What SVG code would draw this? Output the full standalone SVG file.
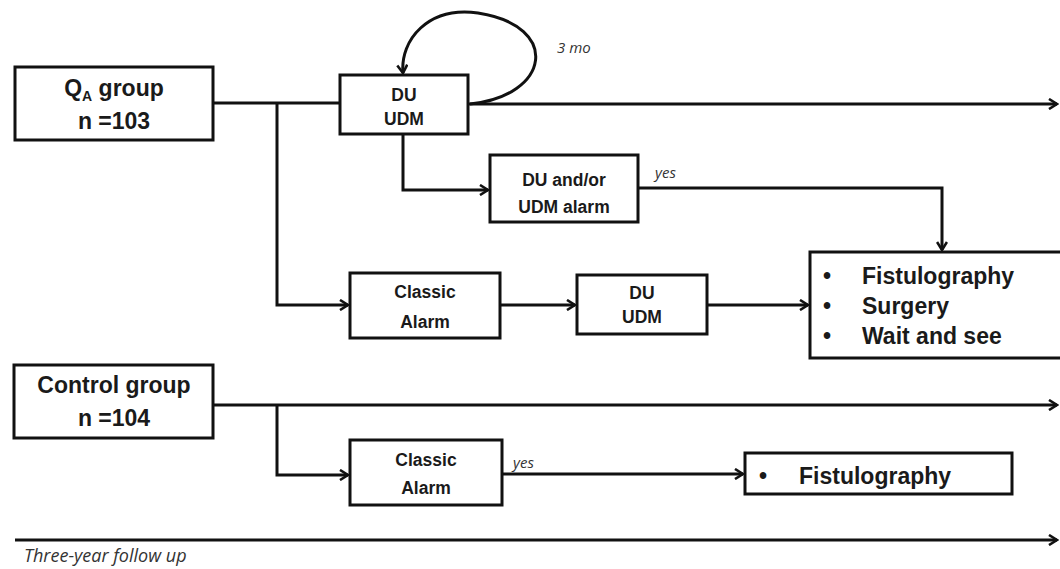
<svg xmlns="http://www.w3.org/2000/svg" width="1060" height="569" viewBox="0 0 1060 569">
<style>
.box{fill:#fff;stroke:#111;stroke-width:3}
.ln{fill:none;stroke:#111;stroke-width:3}
.arr{marker-end:url(#ah)}
.t{font-family:"Liberation Sans",Arial,sans-serif;font-weight:bold;fill:#1a1a1a;text-anchor:middle}
.big{font-size:23px}
.sm{font-size:17.5px}
.lst{font-family:"Liberation Sans",Arial,sans-serif;font-weight:bold;fill:#1a1a1a;font-size:23px}
.it{font-family:"Open Sans","Liberation Sans",sans-serif;font-style:italic;fill:#333;font-size:15px}
</style>
<defs>
<marker id="ah" viewBox="0 0 12 12" refX="10" refY="6" markerWidth="12" markerHeight="12" markerUnits="userSpaceOnUse" orient="auto">
<path d="M2,1 L10,6 L2,11" fill="none" stroke="#111" stroke-width="2.6"/>
</marker>
</defs>
<g id="connectors">
<path class="ln" d="M213,103 L340,103"/>
<path class="ln arr" d="M468,104 L1057,104"/>
<path class="ln arr" d="M470,104 C550,96 562,26 478,13 C428,6 400,40 403,73"/>
<path class="ln arr" d="M403,134 L403,190 L488,190"/>
<path class="ln arr" d="M638,188 L942,188 L942,250"/>
<path class="ln arr" d="M277,103 L277,305 L348,305"/>
<path class="ln arr" d="M500,305 L575,305"/>
<path class="ln arr" d="M707,305 L808,305"/>
<path class="ln arr" d="M213,405 L1057,405"/>
<path class="ln arr" d="M277,405 L277,475 L348,475"/>
<path class="ln arr" d="M502,474 L743,474"/>
<path class="ln arr" d="M15,540 L1057,540"/>
</g>
<g id="qa-group">
<rect class="box" x="15" y="67" width="198" height="73"/>
<text class="t big" x="114" y="96">Q<tspan font-size="14" dy="5">A</tspan><tspan dy="-5"> group</tspan></text>
<text class="t big" x="114" y="129">n =103</text>
</g>
<g id="du-udm-1">
<rect class="box" x="340" y="75" width="128" height="59"/>
<text class="t sm" x="404" y="101">DU</text>
<text class="t sm" x="404" y="125">UDM</text>
</g>
<text class="it" x="557" y="53">3 mo</text>
<g id="du-alarm">
<rect class="box" x="490" y="155" width="148" height="67"/>
<text class="t sm" x="564" y="186">DU and/or</text>
<text class="t sm" x="564" y="213">UDM alarm</text>
</g>
<text class="it" x="655" y="178">yes</text>
<g id="outcome-1">
<rect class="box" x="810" y="252" width="255" height="106"/>
<text class="lst" x="823" y="284">•</text>
<text class="lst" x="862" y="284">Fistulography</text>
<text class="lst" x="823" y="314">•</text>
<text class="lst" x="862" y="314">Surgery</text>
<text class="lst" x="823" y="344">•</text>
<text class="lst" x="862" y="344">Wait and see</text>
</g>
<g id="classic-1">
<rect class="box" x="350" y="273" width="150" height="65"/>
<text class="t sm" x="425" y="298">Classic</text>
<text class="t sm" x="425" y="328">Alarm</text>
</g>
<g id="du-udm-2">
<rect class="box" x="577" y="275" width="130" height="59"/>
<text class="t sm" x="642" y="299">DU</text>
<text class="t sm" x="642" y="323">UDM</text>
</g>
<g id="control-group">
<rect class="box" x="14" y="365" width="199" height="73"/>
<text class="t big" x="114" y="393">Control group</text>
<text class="t big" x="114" y="426">n =104</text>
</g>
<g id="classic-2">
<rect class="box" x="350" y="440" width="152" height="65"/>
<text class="t sm" x="426" y="466">Classic</text>
<text class="t sm" x="426" y="494">Alarm</text>
</g>
<text class="it" x="513" y="468">yes</text>
<g id="outcome-2">
<rect class="box" x="745" y="453" width="267" height="41"/>
<text class="lst" x="759" y="484">•</text>
<text class="lst" x="799" y="484">Fistulography</text>
</g>
<text class="it" x="24" y="562" style="font-size:18px">Three-year follow up</text>
</svg>
